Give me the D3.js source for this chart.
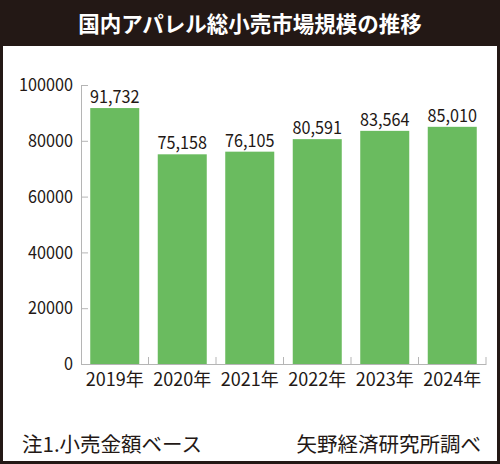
<!DOCTYPE html>
<html>
<head>
<meta charset="utf-8">
<script src="https://cdn.jsdelivr.net/npm/d3@7"></script>
<style>
    body { margin: 0; background: #fff; }
    svg text { font-family: "Noto Sans CJK JP", "Noto Sans", sans-serif; fill: #231815; }
</style>
</head>
<body>
<div id="chart"></div>
<script>
// chart data
var years = ['2019年', '2020年', '2021年', '2022年', '2023年', '2024年'],
    sales = [91732, 75158, 76105, 80591, 83564, 85010],
    yTicks = [0, 20000, 40000, 60000, 80000, 100000],
    title = '国内アパレル総小売市場規模の推移',
    noteLeft = '注1.小売金額ベース',
    noteRight = '矢野経済研究所調べ';

window.onload = function()
{
    main();
};

function main()
{
    var svg = _setupFrame();
    _drawChart(svg);
}

// dark frame, title bar and notes
function _setupFrame()
{
    var svg = d3.select('#chart').append('svg')
        .attr('width', 500)
        .attr('height', 464);

    svg.append('rect')
        .attr('width', 500)
        .attr('height', 464)
        .attr('fill', '#231815');

    svg.append('rect')
        .attr('x', 3)
        .attr('y', 46)
        .attr('width', 494)
        .attr('height', 415)
        .attr('fill', '#fff');

    svg.append('text')
        .attr('x', 250)
        .attr('y', 32)
        .attr('text-anchor', 'middle')
        .style('fill', '#fff')
        .style('font-size', '21.5px')
        .style('font-weight', 'bold')
        .text(title);

    svg.append('text')
        .attr('x', 22)
        .attr('y', 452)
        .style('font-size', '20.5px')
        .text(noteLeft);

    svg.append('text')
        .attr('x', 481)
        .attr('y', 452)
        .attr('text-anchor', 'end')
        .style('font-size', '20.5px')
        .text(noteRight);

    return svg;
}

// bars, axes and value labels
function _drawChart(svg)
{
    var x = d3.scaleBand()
            .domain(years)
            .range([81, 486])
            .paddingInner(0.274)
            .paddingOuter(0.137),
        y = d3.scaleLinear()
            .domain([0, 100000])
            .range([364, 85]),
        data = years.map(function(d, i) { return { year: d, value: sales[i] }; }),
        fmt = d3.format(','),
        axisColor = '#b5b5b5',
        // numbers in the reference are set in a slightly narrow face
        narrow = 'scale(0.9,1)';

    // bars
    svg.append('g').selectAll('rect')
        .data(data)
        .enter().append('rect')
        .attr('x', function(d) { return x(d.year); })
        .attr('y', function(d) { return y(d.value); })
        .attr('width', x.bandwidth())
        .attr('height', function(d) { return y(0) - y(d.value); })
        .attr('fill', '#6abb5f');

    // value labels above bars
    svg.append('g').selectAll('g')
        .data(data)
        .enter().append('g')
        .attr('transform', function(d) {
            return 'translate(' + (x(d.year) + x.bandwidth() / 2) + ',' + (y(d.value) - 5) + ')';
        })
        .append('text')
        .attr('transform', narrow)
        .attr('text-anchor', 'middle')
        .style('font-size', '18px')
        .text(function(d) { return fmt(d.value); });

    // y axis, ticks pointing into the plot
    var yAxis = svg.append('g')
        .attr('transform', 'translate(81,0)')
        .call(d3.axisLeft(y)
            .tickValues(yTicks)
            .tickFormat(d3.format('d'))
            .tickSizeInner(-7)
            .tickSizeOuter(0)
            .tickPadding(9));
    yAxis.select('.domain').attr('stroke', axisColor);
    yAxis.selectAll('.tick line').attr('stroke', axisColor);
    yAxis.selectAll('.tick text')
        .attr('transform', narrow)
        .style('font-size', '18px')
        .style('font-family', null);

    // x axis line and category separators
    var xAxis = svg.append('g')
        .attr('transform', 'translate(0,' + y(0) + ')')
        .call(d3.axisBottom(x)
            .tickSize(0)
            .tickPadding(9));
    xAxis.select('.domain').attr('stroke', axisColor);
    xAxis.selectAll('.tick text')
        .style('font-size', '18px')
        .style('font-family', null);

    xAxis.selectAll('line.sep')
        .data(years)
        .enter().append('line')
        .attr('class', 'sep')
        .attr('x1', function(d) { return x(d) + x.bandwidth() + x.step() * x.paddingInner() / 2; })
        .attr('x2', function(d) { return x(d) + x.bandwidth() + x.step() * x.paddingInner() / 2; })
        .attr('y1', 0)
        .attr('y2', -7)
        .attr('stroke', axisColor);
}
</script>
</body>
</html>
